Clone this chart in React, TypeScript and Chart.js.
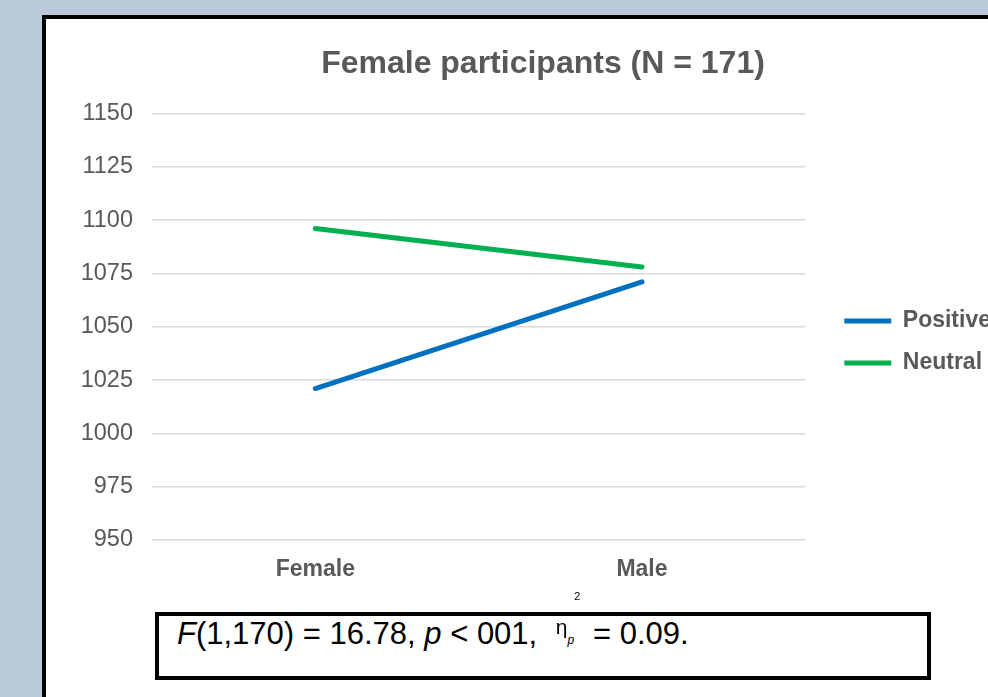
import React, { useEffect, useRef } from "react";
import { Chart, registerables } from "chart.js";

Chart.register(...registerables);

const categories = ["Female", "Male"];
const positiveValues = [1021, 1071];
const neutralValues = [1096, 1078];
const seriesLabels = ["Positive", "Neutral"];
const seriesColors = ["#0070C0", "#00B050"];
const yMin = 950;
const yMax = 1150;
const yStep = 25;
const titleText = "Female participants (N = 171)";

const FONT = "'Liberation Sans', Arial, Helvetica, sans-serif";
const GRAY = "#595959";

export default function App() {
  const canvasRef = useRef<HTMLCanvasElement | null>(null);

  useEffect(() => {
    const canvas = canvasRef.current;
    if (!canvas) return;
    const lineDs = (i: number, data: number[]) => ({
      label: seriesLabels[i],
      data,
      borderColor: seriesColors[i],
      backgroundColor: seriesColors[i],
      borderWidth: 5,
      borderCapStyle: "round",
      borderJoinStyle: "round",
      pointRadius: 0,
      pointHoverRadius: 0,
      tension: 0,
    });
    const chart = new Chart(canvas, {
      type: "line",
      data: {
        labels: categories,
        datasets: [lineDs(0, positiveValues), lineDs(1, neutralValues)],
      },
      options: {
        animation: false,
        responsive: false,
        devicePixelRatio: 1,
        events: [],
        layout: { padding: { left: 0, right: 0, top: 0, bottom: 0 } },
        plugins: {
          tooltip: { enabled: false },
          title: {
            display: true,
            text: titleText,
            color: GRAY,
            font: { family: FONT, size: 32, weight: "bold", lineHeight: 1.2 },
            padding: { top: 26, bottom: 30 },
          },
          legend: {
            display: true,
            position: "right",
            align: "center",
            maxWidth: 400,
            title: {
              display: true,
              text: " ",
              font: { family: FONT, size: 24, lineHeight: 1.2 },
              padding: { top: 36, bottom: 0 },
            },
            labels: {
              usePointStyle: true,
              pointStyle: "line",
              pointStyleWidth: 47,
              padding: 19,
              color: GRAY,
              font: { family: FONT, size: 23, weight: "bold" },
            },
          },
        },
        scales: {
          x: {
            type: "category",
            offset: true,
            grid: { display: false, drawTicks: false },
            border: { display: false },
            ticks: {
              color: GRAY,
              padding: 16,
              font: { family: FONT, size: 23, weight: "bold" },
            },
            afterFit: (s: any) => {
              s.height = 60;
            },
          },
          y: {
            type: "linear",
            min: yMin,
            max: yMax,
            grid: { color: "#d9d9d9", lineWidth: 1.5, drawTicks: false },
            border: { display: false },
            ticks: {
              stepSize: yStep,
              padding: 19,
              color: GRAY,
              font: { family: FONT, size: 23.5 },
              callback: (v: any) => String(v),
            },
            afterFit: (s: any) => {
              s.width = 106;
            },
          },
          y2: {
            type: "linear",
            position: "right",
            display: true,
            weight: 0,
            grid: { display: false, drawTicks: false },
            border: { display: false },
            ticks: { display: false },
            afterFit: (s: any) => {
              s.width = 20;
            },
          },
          y3: {
            type: "linear",
            position: "right",
            display: true,
            weight: 1500,
            grid: { display: false, drawTicks: false },
            border: { display: false },
            ticks: { display: false },
            afterFit: (s: any) => {
              s.width = 39;
            },
          },
        },
      },
    } as any);
    return () => chart.destroy();
  }, []);

  return (
    <div
      style={{
        position: "fixed",
        left: 0,
        top: 0,
        width: 988,
        height: 697,
        overflow: "hidden",
        background: "#b9c9da",
      }}
    >
      <div
        style={{
          position: "absolute",
          left: 42,
          top: 15,
          width: 1000,
          height: 720,
          background: "#ffffff",
          border: "4px solid #000",
        }}
      />
      <canvas
        ref={canvasRef}
        width={994}
        height={581}
        style={{ position: "absolute", left: 46, top: 19, width: 994, height: 581 }}
      />
      <div
        style={{
          position: "absolute",
          left: 155,
          top: 612,
          width: 776,
          height: 68,
          boxSizing: "border-box",
          border: "4px solid #000",
          background: "#fff",
        }}
      >
        <div
          style={{
            position: "absolute",
            left: 18,
            top: -2,
            whiteSpace: "pre",
            fontFamily: FONT,
            fontSize: 31,
            lineHeight: "40px",
            color: "#000",
          }}
        >
          <i>F</i>(1,170) = 16.78, <i>p</i> &lt; 001,{" "}
          <span style={{ fontSize: 21, position: "relative", top: -10, marginLeft: 10 }}>η</span>
          <span style={{ fontSize: 12, fontStyle: "italic" }}>p</span>
          <span style={{ fontSize: 11, position: "relative", top: -44, marginRight: 4 }}>2</span> = 0.09.
        </div>
      </div>
    </div>
  );
}
